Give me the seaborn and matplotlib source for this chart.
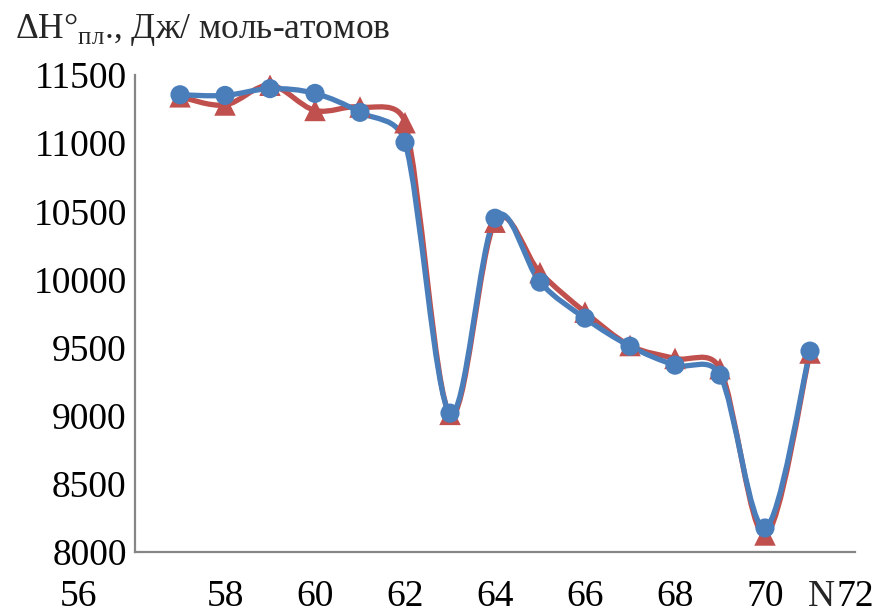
import numpy as np
import matplotlib
matplotlib.use("Agg")
import matplotlib.pyplot as plt
import matplotlib.transforms as mtransforms
from matplotlib.path import Path
from matplotlib.patches import PathPatch
import seaborn as sns

# данные
n_atoms = [57, 58, 59, 60, 61, 62, 63, 64, 65, 66, 67, 68, 69, 70, 71]
dh_red = [11340, 11280, 11425, 11240, 11265, 11150, 9010, 10420, 10050,
          9760, 9515, 9420, 9345, 8125, 9460]
dh_blue = [11355, 11350, 11400, 11365, 11226, 11006, 9019, 10449, 9980,
           9716, 9510, 9371, 9298, 8176, 9474]
x_ticks = [56, 58, 60, 62, 64, 66, 68, 70, 72]
y_ticks = [8000, 8500, 9000, 9500, 10000, 10500, 11000, 11500]

red = "#C0504D"
blue = "#4A7EBB"
grey = "#868686"

sns.set_style("white")
plt.rcParams["font.family"] = ["Liberation Serif", "DejaVu Serif"]
plt.rcParams["mathtext.fontset"] = "custom"
plt.rcParams["mathtext.rm"] = "Liberation Serif"

fig = plt.figure(figsize=(8.76, 6.15), dpi=100)
ax = fig.add_axes([135 / 876, 63 / 615, 720 / 876, 477 / 615])
ax.set_xlim(56, 72)
ax.set_ylim(8000, 11500)


def smooth_path(xs, ys):
    # сглаживание как в Excel: Безье, плечи считаются в пикселях
    # и не длиннее половины отрезка
    p = ax.transData.transform(np.column_stack([xs, ys]).astype(float))
    k = len(p)
    verts = [p[0]]
    codes = [Path.MOVETO]
    for i in range(k - 1):
        p0 = p[i - 1] if i > 0 else p[i]
        p3 = p[i + 2] if i + 2 < k else p[i + 1]
        seg = np.hypot(*(p[i + 1] - p[i]))
        t1 = p[i + 1] - p0
        t2 = p3 - p[i]
        f1 = min(1 / 6, seg / (2 * max(np.hypot(*t1), 1e-9)))
        f2 = min(1 / 6, seg / (2 * max(np.hypot(*t2), 1e-9)))
        verts += [p[i] + f1 * t1, p[i + 1] - f2 * t2, p[i + 1]]
        codes += [Path.CURVE4] * 3
    verts = ax.transData.inverted().transform(np.array(verts))
    return Path(verts, codes)


for vals, col, mk, size in [(dh_red, red, "^", 240), (dh_blue, blue, "o", 190)]:
    ax.add_patch(PathPatch(smooth_path(n_atoms, vals), fill=False,
                           edgecolor=col, linewidth=3.8, capstyle="round",
                           joinstyle="round"))
    sns.scatterplot(x=n_atoms, y=vals, marker=mk, color=col, s=size,
                    edgecolor="none", ax=ax, zorder=3)

ax.set_xlim(56, 72)
ax.set_ylim(8000, 11500)
ax.set_xticks(x_ticks)
ax.set_yticks(y_ticks)
ax.set_xticklabels([str(t) for t in x_ticks])
ax.set_yticklabels([str(t) for t in y_ticks])

for side in ["top", "right"]:
    ax.spines[side].set_visible(False)
for side in ["left", "bottom"]:
    ax.spines[side].set_color(grey)
    ax.spines[side].set_linewidth(1.6)

ax.tick_params(axis="both", direction="in", length=7, width=1.6,
               color=grey, labelsize=27, labelcolor="black")
ax.tick_params(axis="x", pad=20)
ax.tick_params(axis="y", pad=6)

# первая подпись "56" в оригинале сдвинута влево
lab56 = ax.get_xticklabels()[0]
lab56.set_transform(lab56.get_transform() +
                    mtransforms.ScaledTranslation(-0.57, 0, fig.dpi_scale_trans))

# подпись оси X на одной линии с подписями делений
ax.text(71.55, 0, "N", fontsize=27, ha="right", va="top",
        transform=ax.get_xaxis_transform() +
        mtransforms.ScaledTranslation(0, -20 / 72, fig.dpi_scale_trans))

# подпись оси Y
fig.text(15 / 876, 1 - 38 / 615,
         "ΔH°$_{\\mathregular{пл}}$., Дж/ моль-атомов",
         ha="left", va="baseline", fontsize=25.5)

fig.savefig("out.png", dpi=100)
